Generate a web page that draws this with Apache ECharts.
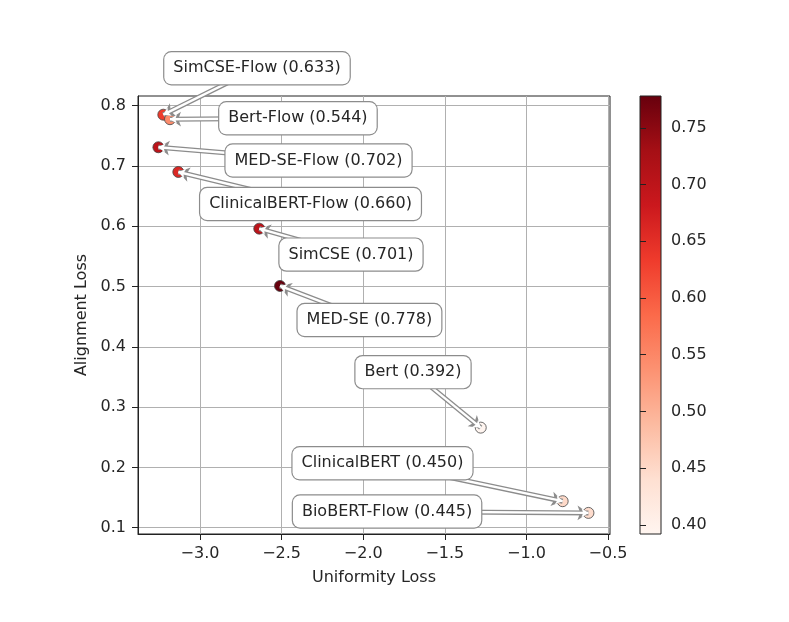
<!DOCTYPE html>
<html><head><meta charset="utf-8">
<script src="https://cdn.jsdelivr.net/npm/echarts@6/dist/echarts.min.js"></script>
<style>html,body{margin:0;padding:0;background:#fff}#c{width:789px;height:622px}</style>
</head><body><div id="c"></div>
<script>
// ---- data ----
const models = ['SimCSE-Flow','Bert-Flow','MED-SE-Flow','ClinicalBERT-Flow','SimCSE','MED-SE','Bert','ClinicalBERT','BioBERT-Flow'];
const uniformity = [-3.225,-3.184,-3.255,-3.133,-2.637,-2.51,-1.28,-0.778,-0.62];
const alignment = [0.785,0.7775,0.731,0.690,0.596,0.501,0.266,0.144,0.1246];
const scores = [0.633,0.544,0.702,0.660,0.701,0.778,0.392,0.450,0.445];
const xTicks = [-3.0,-2.5,-2.0,-1.5,-1.0,-0.5];
const yTicks = [0.1,0.2,0.3,0.4,0.5,0.6,0.7,0.8];
const cbTicks = [0.40,0.45,0.50,0.55,0.60,0.65,0.70,0.75];

// ---- annotation text anchors (data coords, like matplotlib xytext) ----
const textX = [-2.651,-2.400,-2.274,-2.323,-2.075,-1.962,-1.695,-1.882,-1.854];
const textY = [0.862,0.779,0.709,0.637,0.553,0.4445,0.358,0.207,0.127];

const reds = ['#fff5f0','#fee0d2','#fcbba1','#fc9272','#fb6a4a','#ef3b2c','#cb181d','#a50f15','#67000d'];
const font = 'DejaVu Sans';
const points = models.map((m,i)=>({name:m, value:[uniformity[i], alignment[i], scores[i]]}));
const anchors = models.map((m,i)=>({name:m, value:[textX[i], textY[i], scores[i]]}));
const arrows = models.map((m,i)=>({coords:[[textX[i], textY[i]],[uniformity[i], alignment[i]]]}));
const minus = v => (v<0?'\u2212':'') + Math.abs(v).toFixed(1);

const arrowSeries = (color, width, size, z) => ({
  type:'lines', coordinateSystem:'cartesian2d', xAxisIndex:0, yAxisIndex:0, z:z,
  silent:true, clip:false, polyline:false, large:false,
  symbol:['none','arrow'], symbolSize:size,
  lineStyle:{color:color, width:width, type:'solid', opacity:1, curveness:0},
  emphasis:{disabled:true},
  data:arrows
});

const chart = echarts.init(document.getElementById('c'), null, {renderer:'canvas'});
chart.setOption({
  animation: false,
  backgroundColor: '#fff',
  grid: [
    {left: 138, top: 96, width: 472, height: 438, show: true, borderColor: '#222', borderWidth: 1, backgroundColor: 'rgba(0,0,0,0)'},
    {left: 640, top: 96, width: 21, height: 438, show: true, borderColor: '#222', borderWidth: 1,
     backgroundColor: new echarts.graphic.LinearGradient(0,1,0,0, reds.map((c,i)=>({offset:i/(reds.length-1), color:c})))}
  ],
  xAxis: [
    {type:'value', gridIndex:0, min:-3.38, max:-0.488,
     name:'Uniformity Loss', nameLocation:'middle', nameGap:36,
     nameTextStyle:{fontFamily:font, fontSize:16, color:'#262626'},
     axisLine:{show:true, onZero:false, lineStyle:{color:'#222', width:1}},
     axisTick:{show:true, customValues:xTicks, length:6, lineStyle:{color:'#222'}},
     axisLabel:{customValues:xTicks, formatter:minus, fontFamily:font, fontSize:16, color:'#262626', margin:12},
     splitLine:{show:true, lineStyle:{color:'#b0b0b0', width:1}}},
    {type:'value', gridIndex:1, min:0, max:1, show:false}
  ],
  yAxis: [
    {type:'value', gridIndex:0, min:0.0896, max:0.816,
     name:'Alignment Loss', nameLocation:'middle', nameGap:46, nameRotate:90,
     nameTextStyle:{fontFamily:font, fontSize:16, color:'#262626'},
     axisLine:{show:true, onZero:false, lineStyle:{color:'#222', width:1}},
     axisTick:{show:true, customValues:yTicks, length:6, lineStyle:{color:'#222'}},
     axisLabel:{customValues:yTicks, formatter:v=>v.toFixed(1), fontFamily:font, fontSize:16, color:'#262626', margin:12},
     splitLine:{show:true, lineStyle:{color:'#b0b0b0', width:1}}},
    {type:'value', gridIndex:1, position:'right', min:0.392, max:0.778,
     axisLine:{show:false},
     axisTick:{show:true, customValues:cbTicks, length:6, lineStyle:{color:'#222'}},
     axisLabel:{customValues:cbTicks, formatter:v=>v.toFixed(2), fontFamily:font, fontSize:16, color:'#262626', margin:10},
     splitLine:{show:false}}
  ],
  visualMap: {type:'continuous', show:false, seriesIndex:0, dimension:2, min:0.392, max:0.778, inRange:{color:reds}},
  series: [
    {type:'scatter', xAxisIndex:0, yAxisIndex:0, z:2, data:points, symbolSize:11,
     itemStyle:{borderColor:'#444', borderWidth:0.8, opacity:1}},
    arrowSeries('#8c8c8c', 5, 11, 3),
    arrowSeries('#ffffff', 2.4, 7, 4),
    {type:'scatter', xAxisIndex:0, yAxisIndex:0, z:10, data:anchors, symbolSize:0, silent:true, clip:false,
     itemStyle:{color:'rgba(0,0,0,0)', opacity:1},
     label:{show:true, position:'inside', opacity:1, formatter:p => p.name + ' (' + p.value[2].toFixed(3) + ')',
       fontFamily:font, fontSize:16, lineHeight:18, color:'#262626', textBorderWidth:0,
       backgroundColor:'#fff', borderColor:'#8c8c8c', borderWidth:1.2, borderRadius:7, padding:[7,9]}}
  ]
});
</script></body></html>
